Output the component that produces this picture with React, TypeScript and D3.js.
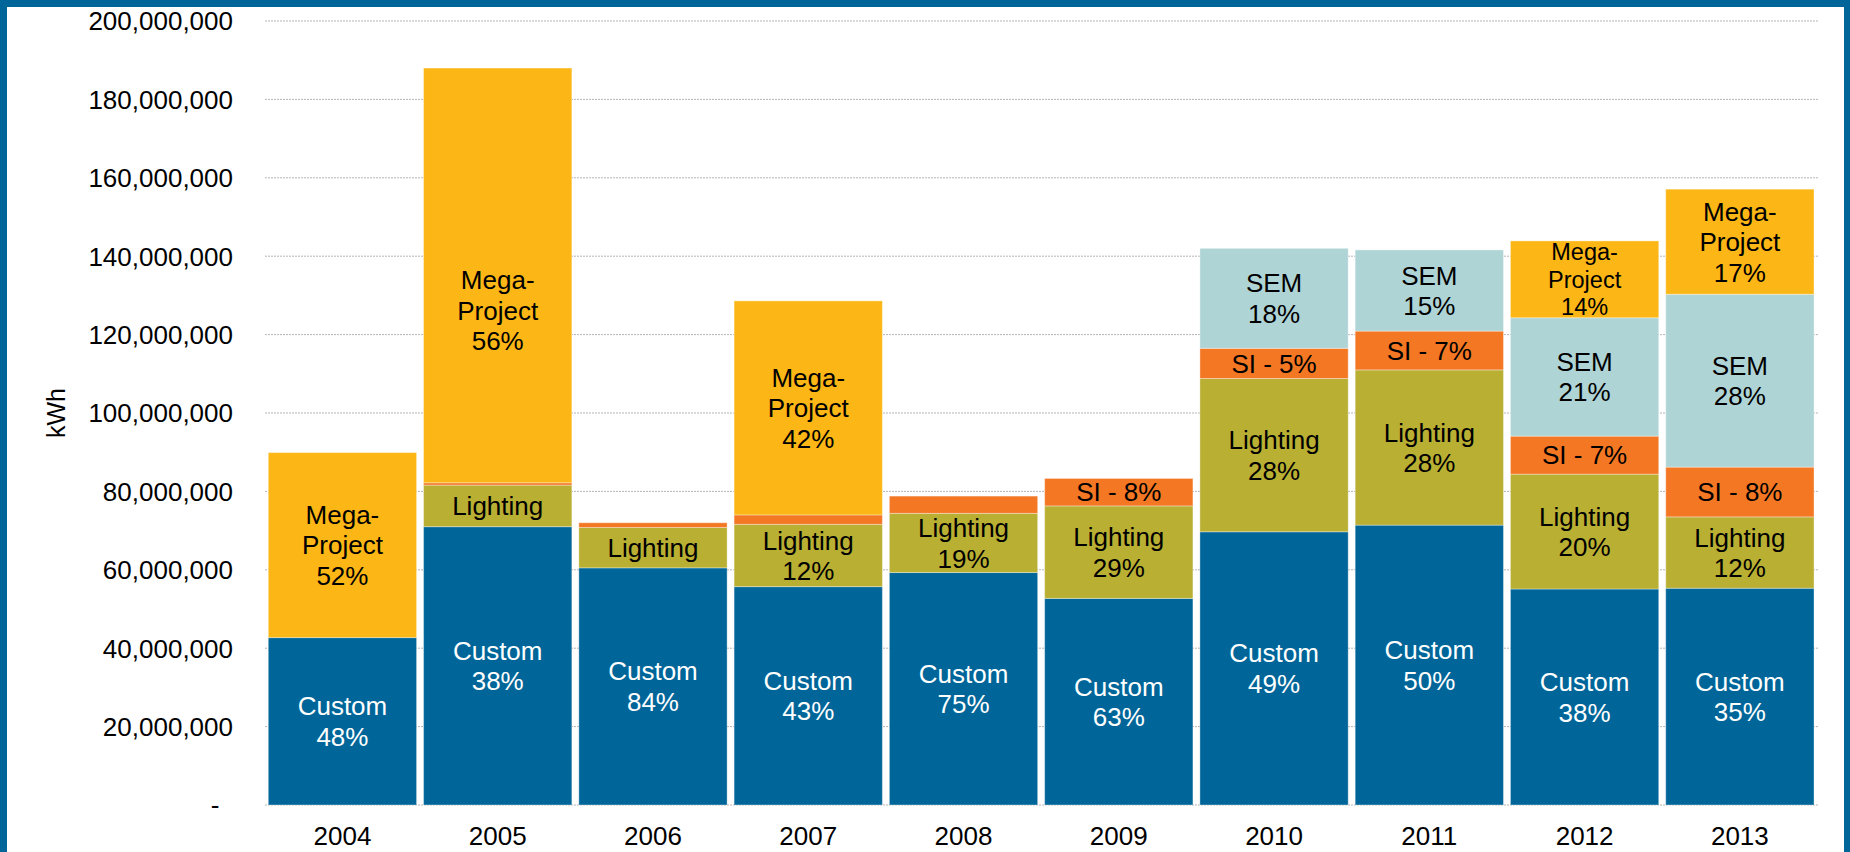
import React from "react";
import * as d3 from "d3";

// ---- Data (values in millions of kWh) ----
const years = ["2004", "2005", "2006", "2007", "2008", "2009", "2010", "2011", "2012", "2013"];
const customValues = [42.7, 71.0, 60.5, 55.7, 59.3, 52.7, 69.7, 71.4, 55.1, 55.3];
const lightingValues = [0, 10.6, 10.3, 15.9, 15.1, 23.6, 39.1, 39.6, 29.3, 18.2];
const siValues = [0, 0.6, 1.2, 2.4, 4.4, 7.0, 7.7, 9.9, 9.7, 12.7];
const semValues = [0, 0, 0, 0, 0, 0, 25.5, 20.7, 30.2, 44.1];
const megaValues = [47.2, 105.8, 0, 54.6, 0, 0, 0, 0, 19.6, 26.8];

const customLabels = ["Custom\n48%", "Custom\n38%", "Custom\n84%", "Custom\n43%", "Custom\n75%", "Custom\n63%", "Custom\n49%", "Custom\n50%", "Custom\n38%", "Custom\n35%"];
const lightingLabels = [null, "Lighting", "Lighting", "Lighting\n12%", "Lighting\n19%", "Lighting\n29%", "Lighting\n28%", "Lighting\n28%", "Lighting\n20%", "Lighting\n12%"];
const siLabels = [null, null, null, null, null, "SI - 8%", "SI - 5%", "SI - 7%", "SI - 7%", "SI - 8%"];
const semLabels = [null, null, null, null, null, null, "SEM\n18%", "SEM\n15%", "SEM\n21%", "SEM\n28%"];
const megaLabels = ["Mega-\nProject\n52%", "Mega-\nProject\n56%", null, "Mega-\nProject\n42%", null, null, null, null, "Mega-\nProject\n14%", "Mega-\nProject\n17%"];

const yTicks = [0, 20, 40, 60, 80, 100, 120, 140, 160, 180, 200];

const seriesDefs = [
  { key: "custom", values: customValues, labels: customLabels, color: "#006699", text: "#ffffff" },
  { key: "lighting", values: lightingValues, labels: lightingLabels, color: "#B9AF33", text: "#000000" },
  { key: "si", values: siValues, labels: siLabels, color: "#F47724", text: "#000000" },
  { key: "sem", values: semValues, labels: semLabels, color: "#AFD4D6", text: "#000000" },
  { key: "mega", values: megaValues, labels: megaLabels, color: "#FCB716", text: "#000000" },
];

const W = 1850;
const H = 852;
const FONT = "'Liberation Sans', Arial, Helvetica, sans-serif";

export default function App() {
  const x = d3
    .scaleBand<string>()
    .domain(years)
    .range([264.8, 1817.5])
    .paddingInner(0.045)
    .paddingOuter(0.0225);
  const y = d3.scaleLinear().domain([0, 200]).range([805, 21]);

  const table = years.map((yr, i) => {
    const row: any = { year: yr };
    seriesDefs.forEach((s) => (row[s.key] = s.values[i]));
    return row;
  });
  const stack = d3.stack<any>().keys(seriesDefs.map((s) => s.key));
  const layers = stack(table);

  const fmt = (v: number) => (v === 0 ? "-" : d3.format(",")(v * 1e6));

  const labelEls: React.ReactNode[] = [];
  layers.forEach((layer, si) => {
    const def = seriesDefs[si];
    layer.forEach((d, i) => {
      const lab = def.labels[i];
      if (!lab || d[1] - d[0] <= 0) return;
      const lines = lab.split("\n");
      const small = def.key === "mega" && years[i] === "2012";
      const fs = small ? 23.5 : 26;
      const lh = small ? 27.5 : 30.5;
      let cy = (y(d[0]) + y(d[1])) / 2;
      if (def.key === "mega" && years[i] === "2005") cy += 35;
      const cx = (x(years[i]) as number) + x.bandwidth() / 2;
      const firstBase = cy - ((lines.length - 1) * lh) / 2 + fs * 0.716 / 2;
      labelEls.push(
        <text
          key={`${def.key}-${i}`}
          x={cx}
          y={firstBase}
          textAnchor="middle"
          fontSize={fs}
          fill={def.text}
          fontFamily={FONT}
        >
          {lines.map((ln, k) => (
            <tspan key={k} x={cx} y={firstBase + k * lh}>
              {ln}
            </tspan>
          ))}
        </text>
      );
    });
  });

  return (
    <svg
      width={W}
      height={H}
      style={{ position: "absolute", left: 0, top: 0, display: "block", background: "#ffffff" }}
    >
      <rect x={0} y={0} width={W} height={H} fill="#ffffff" />
      {/* gridlines */}
      {yTicks.map((t) => (
        <line
          key={t}
          x1={265}
          x2={1818}
          y1={y(t)}
          y2={y(t)}
          stroke="#b5b5b5"
          strokeWidth={1}
          strokeDasharray="2,1"
        />
      ))}
      {/* tick labels */}
      {yTicks.map((t) => (
        <text
          key={"l" + t}
          x={t === 0 ? 219.5 : 233}
          y={y(t) + 9.3}
          textAnchor="end"
          fontSize={26}
          fontFamily={FONT}
          fill="#000"
        >
          {fmt(t)}
        </text>
      ))}
      <text
        transform={`translate(${65},${413}) rotate(-90)`}
        textAnchor="middle"
        fontSize={25}
        fontFamily={FONT}
        fill="#000"
      >
        kWh
      </text>
      {/* bars */}
      {layers.map((layer, si) => (
        <g key={seriesDefs[si].key}>
          {layer.map((d, i) =>
            d[1] - d[0] > 0 ? (
              <rect
                key={i}
                x={x(years[i])}
                y={y(d[1])}
                width={x.bandwidth()}
                height={y(d[0]) - y(d[1])}
                fill={seriesDefs[si].color}
                stroke="rgba(255,255,255,0.35)"
                strokeWidth={1}
              />
            ) : null
          )}
        </g>
      ))}
      {labelEls}
      {/* x labels */}
      {years.map((yr) => (
        <text
          key={"x" + yr}
          x={(x(yr) as number) + x.bandwidth() / 2}
          y={845}
          textAnchor="middle"
          fontSize={26}
          fontFamily={FONT}
          fill="#000"
        >
          {yr}
        </text>
      ))}
      {/* frame */}
      <rect x={0} y={0} width={W} height={7} fill="#006699" />
      <rect x={0} y={0} width={7} height={H} fill="#006699" />
      <rect x={1844} y={0} width={6} height={H} fill="#006699" />
    </svg>
  );
}
